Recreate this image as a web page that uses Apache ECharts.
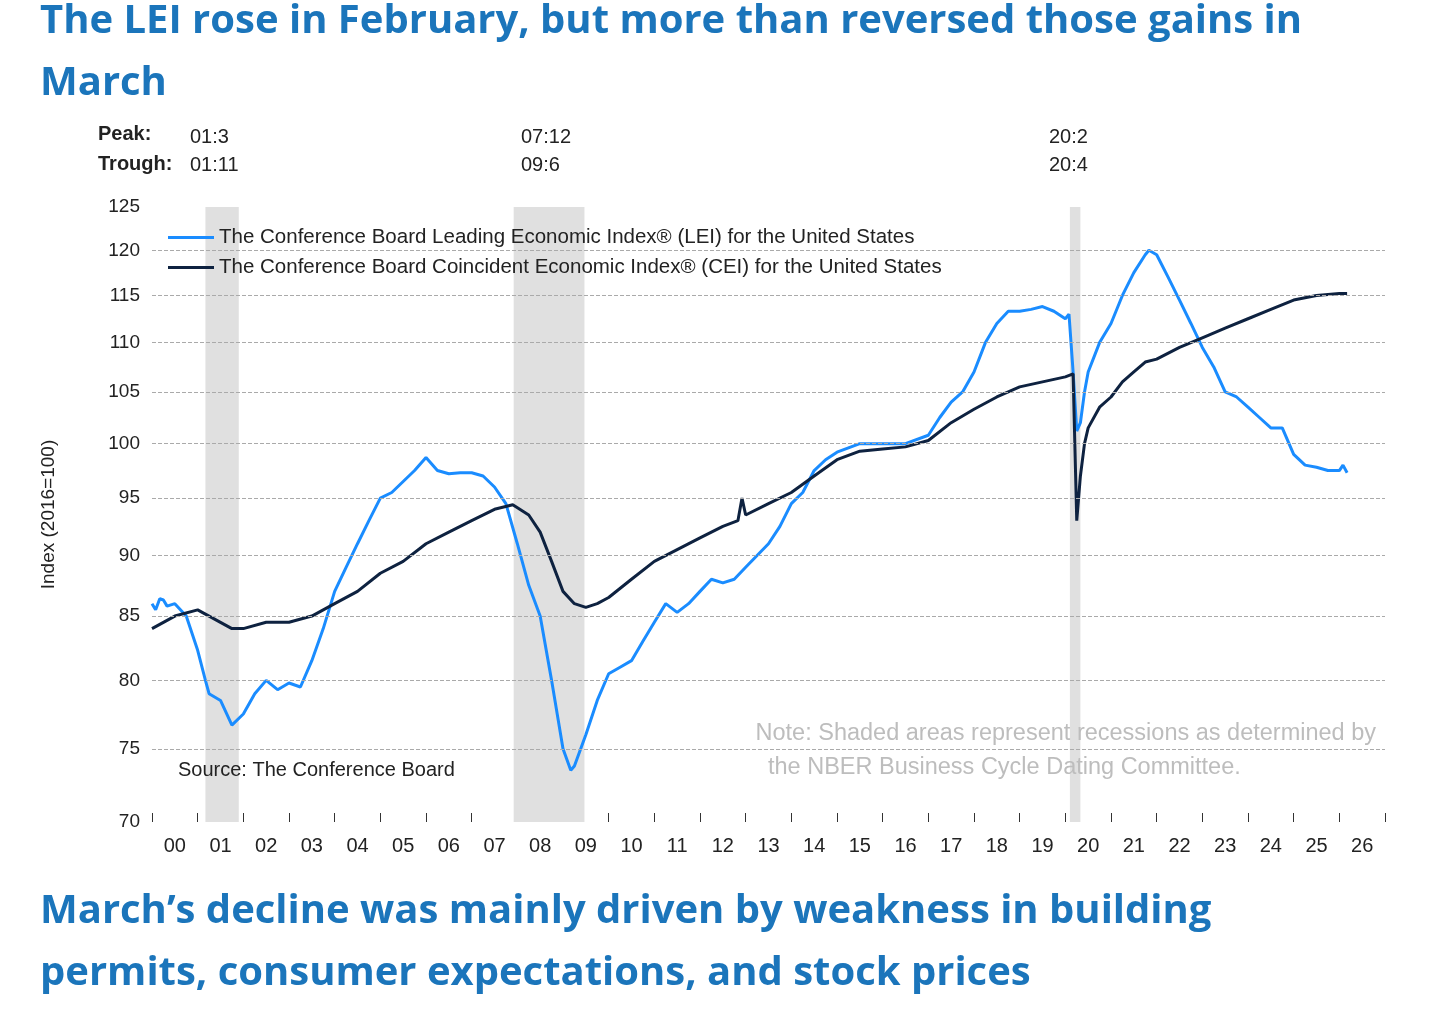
<!DOCTYPE html>
<html><head><meta charset="utf-8">
<script src="https://cdn.jsdelivr.net/npm/echarts@6/dist/echarts.min.js"></script>
<style>html,body{margin:0;background:#fff}#chart{width:1456px;height:1009px}</style>
</head><body><div id="chart"></div>
<script>
const yearLabels = ['00','01','02','03','04','05','06','07','08','09','10','11','12','13','14','15','16','17','18','19','20','21','22','23','24','25','26']
const yTicks = [75, 80, 85, 90, 95, 100, 105, 110, 115, 120]
const recessions = [[2001.17, 2001.9], [2007.92, 2009.47], [2020.1, 2020.33]]

const leiDates = [2000.0,2000.08,2000.17,2000.25,2000.33,2000.5,2000.75,2001.0,2001.17,2001.25,2001.5,2001.75,2002.0,2002.25,2002.5,2002.75,2003.0,2003.25,2003.5,2003.75,2004.0,2004.25,2004.5,2004.75,2005.0,2005.25,2005.5,2005.75,2006.0,2006.25,2006.5,2006.75,2007.0,2007.25,2007.5,2007.75,2008.0,2008.25,2008.5,2008.75,2009.0,2009.17,2009.25,2009.5,2009.75,2010.0,2010.25,2010.5,2010.75,2011.0,2011.25,2011.5,2011.75,2012.0,2012.25,2012.5,2012.75,2013.0,2013.25,2013.5,2013.75,2014.0,2014.25,2014.5,2014.75,2015.0,2015.5,2016.0,2016.5,2017.0,2017.25,2017.5,2017.75,2018.0,2018.25,2018.5,2018.75,2019.0,2019.25,2019.5,2019.75,2020.0,2020.08,2020.17,2020.25,2020.33,2020.42,2020.5,2020.75,2021.0,2021.25,2021.5,2021.75,2021.83,2022.0,2022.25,2022.5,2022.75,2023.0,2023.25,2023.5,2023.75,2024.0,2024.25,2024.5,2024.75,2025.0,2025.25,2025.5,2025.75,2026.0,2026.08,2026.17]
const leiValues = [86,85.5,86.4,86.3,85.8,86,85,82.3,80,79,78.5,76.7,77.5,79,80,79.3,79.8,79.5,81.5,84,87,89,91,93,95,95.5,96.5,97.5,98.7,97.5,97.2,97.3,97.3,97,96,94.5,91,87.5,85,80,75,73.5,73.8,76,78.5,80.5,81,81.5,83,84.5,86,85.3,86,87,88,87.7,88,89,90,91,92.5,94.5,95.5,97.5,98.5,99.2,100,100,100,100.8,102.5,104,105,107,110,112,113.3,113.3,113.5,113.8,113.3,112.5,113,107,101.2,102,105,107,110,112,115,117.5,119.5,120,119.5,117,114.5,112,109.5,107.5,105,104.5,103.5,102.5,101.5,101.5,99,98,97.8,97.5,97.5,98,97.3]

const ceiDates = [2000.0,2000.5,2001.0,2001.25,2001.5,2001.75,2002.0,2002.5,2003.0,2003.5,2004.0,2004.5,2005.0,2005.5,2006.0,2006.5,2007.0,2007.5,2007.9,2008.25,2008.5,2008.75,2009.0,2009.25,2009.5,2009.75,2010.0,2010.5,2011.0,2011.5,2012.0,2012.5,2012.83,2012.92,2013.0,2013.5,2014.0,2014.5,2015.0,2015.5,2016.0,2016.5,2017.0,2017.5,2018.0,2018.5,2019.0,2019.5,2020.0,2020.17,2020.25,2020.33,2020.42,2020.5,2020.75,2021.0,2021.25,2021.5,2021.75,2022.0,2022.5,2023.0,2023.5,2024.0,2024.5,2025.0,2025.5,2026.0,2026.17]
const ceiValues = [84,85,85.5,85,84.5,84,84,84.5,84.5,85,86,87,88.5,89.5,91,92,93,94,94.4,93.5,92,89.5,87,86,85.7,86,86.5,88,89.5,90.5,91.5,92.5,93,95,93.5,94.5,95.5,97,98.5,99.3,99.5,99.7,100.3,102,103.3,104.5,105.5,106,106.5,106.8,93,97,100,101.5,103.5,104.5,106,107,108,108.3,109.5,110.5,111.5,112.5,113.5,114.5,115,115.2,115.2]

const zip = (a, b) => a.map((d, i) => [d, b[i]])
const chart = echarts.init(document.getElementById('chart'))
const font = 'Arial, "Liberation Sans", sans-serif'
const titleStyle = { fill: '#1b75bb', font: 'bold 40px "Open Sans", Lato, sans-serif' }
const hdr = (x, y, t, bold) => ({ type: 'text', left: x, top: y, z: 100, style: { text: t, fill: '#222', font: (bold ? 'bold ' : '') + '20px ' + font } })

chart.setOption({
  animation: false,
  grid: { left: 152, right: 71, top: 207, bottom: 187 },
  legend: {
    orient: 'vertical', left: 163, top: 222, itemWidth: 46, itemHeight: 3, itemGap: 9,
    icon: 'rect', textStyle: { fontSize: 20.5, color: '#222', fontFamily: font },
    data: ['The Conference Board Leading Economic Index® (LEI) for the United States', 'The Conference Board Coincident Economic Index® (CEI) for the United States']
  },
  xAxis: [
    { type: 'value', min: 2000, max: 2027, show: false },
    { type: 'category', data: yearLabels, position: 'bottom', boundaryGap: true,
      axisLine: { show: false },
      axisTick: { show: true, interval: 0, inside: true, length: 9, lineStyle: { color: '#333' } },
      axisLabel: { fontSize: 20, color: '#222', margin: 14, interval: 0, fontFamily: font } }
  ],
  yAxis: {
    type: 'log', min: 70, max: 125, axisLabel: { show: false }, splitLine: { show: false }, axisTick: { show: false },
    axisLine: { show: false },
    name: 'Index (2016=100)', nameLocation: 'middle', nameGap: 94, nameRotate: 90,
    nameTextStyle: { fontSize: 19, color: '#222', fontFamily: font }
  },
  series: [
    {
      name: 'The Conference Board Leading Economic Index® (LEI) for the United States',
      type: 'line', data: zip(leiDates, leiValues), showSymbol: false, z: 3,
      lineStyle: { color: '#1a8cff', width: 3 }, itemStyle: { color: '#1a8cff' },
      markArea: { silent: true, z: 1, itemStyle: { color: '#e0e0e0' }, data: recessions.map(r => [{ xAxis: r[0] }, { xAxis: r[1] }]) },
      markLine: {
        silent: true, symbol: 'none', animation: false,
        lineStyle: { color: '#aaa', type: 'dashed', width: 1 },
        label: { position: 'start', fontSize: 19, color: '#222', distance: 12, formatter: p => p.value, fontFamily: font },
        data: yTicks.map(v => ({ yAxis: v })).concat([{ yAxis: 125, lineStyle: { color: 'rgba(0,0,0,0)' } }, { yAxis: 70, lineStyle: { color: 'rgba(0,0,0,0)' } }])
      }
    },
    {
      name: 'The Conference Board Coincident Economic Index® (CEI) for the United States',
      type: 'line', data: zip(ceiDates, ceiValues), showSymbol: false, z: 4,
      lineStyle: { color: '#0e2240', width: 3 }, itemStyle: { color: '#0e2240' }
    }
  ],
  graphic: [
    { type: 'text', left: 40, top: 2, z: 100, style: Object.assign({ text: 'The LEI rose in February, but more than reversed those gains in' }, titleStyle) },
    { type: 'text', left: 40, top: 64, z: 100, style: Object.assign({ text: 'March' }, titleStyle) },
    { type: 'text', left: 40, top: 892, z: 100, style: Object.assign({ text: 'March’s decline was mainly driven by weakness in building' }, titleStyle) },
    { type: 'text', left: 40, top: 954, z: 100, style: Object.assign({ text: 'permits, consumer expectations, and stock prices' }, titleStyle) },
    hdr(98, 124, 'Peak:', true), hdr(98, 154, 'Trough:', true),
    hdr(190, 127, '01:3'), hdr(190, 155, '01:11'),
    hdr(521, 127, '07:12'), hdr(521, 155, '09:6'),
    hdr(1049, 127, '20:2'), hdr(1049, 155, '20:4'),
    { type: 'text', left: 178, top: 760, z: 100, style: { text: 'Source: The Conference Board', fill: '#222', font: '20px ' + font } },
    { type: 'text', right: 80, top: 722, z: 100, style: { text: 'Note: Shaded areas represent recessions as determined by', fill: '#bdbdbd', font: '23.5px ' + font } },
    { type: 'text', left: 768, top: 756, z: 100, style: { text: 'the NBER Business Cycle Dating Committee.', fill: '#bdbdbd', font: '23.5px ' + font } }
  ]
})
</script></body></html>
